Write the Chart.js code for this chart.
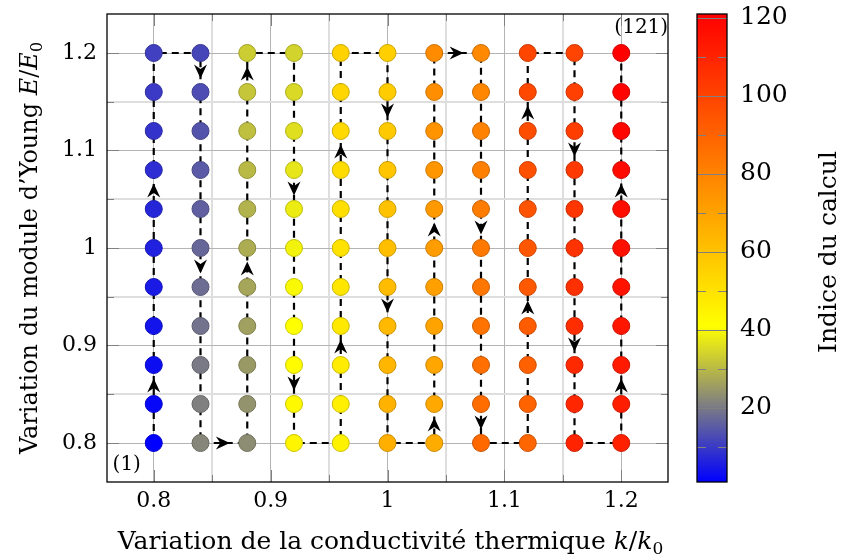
<!DOCTYPE html>
<html>
<head>
<meta charset="utf-8">
<script src="https://cdn.jsdelivr.net/npm/chart.js"></script>
<style>
html, body { margin: 0; padding: 0; background: #fff; }
#wrap { width: 841px; height: 559px; }
</style>
</head>
<body>
<div id="wrap"><canvas id="chart" width="841" height="559"></canvas></div>
<script>
// Valeurs
var kValues = [0.8, 0.84, 0.88, 0.92, 0.96, 1.0, 1.04, 1.08, 1.12, 1.16, 1.2];
var eValues = [0.8, 0.84, 0.88, 0.92, 0.96, 1.0, 1.04, 1.08, 1.12, 1.16, 1.2];
var xTicks = [0.8, 0.9, 1, 1.1, 1.2];
var xMinorTicks = [0.85, 0.95, 1.05, 1.15];
var yTicks = [0.8, 0.9, 1, 1.1, 1.2];
var yMinorTicks = [0.85, 0.95, 1.05, 1.15];
var cbTicks = [20, 40, 60, 80, 100, 120];
var cbMinorTicks = [10, 30, 50, 70, 90, 110];
// segments (indice de départ) portant une flèche
var arrowSegments = [2, 7, 12, 17, 22, 27, 32, 37, 42, 47, 52, 57, 62, 67, 72, 77, 82, 87, 92, 97, 102, 107, 112, 117];

var FONT = "'DejaVu Serif', serif";

// colormap : bleu -> gris -> jaune -> rouge
var cmapStops = [
    { v: 1, c: [0, 0, 255] },
    { v: 21, c: [128, 128, 128] },
    { v: 41, c: [255, 255, 0] },
    { v: 121, c: [255, 0, 0] }
];

function mapColor(v, factor) {
    var f = factor || 1;
    var a = cmapStops[0], b = cmapStops[cmapStops.length - 1];
    for (var i = 0; i < cmapStops.length - 1; i++) {
        if (v >= cmapStops[i].v && v <= cmapStops[i + 1].v) {
            a = cmapStops[i];
            b = cmapStops[i + 1];
            break;
        }
    }
    var t = (v - a.v) / (b.v - a.v);
    var rgb = [];
    for (var k = 0; k < 3; k++) {
        rgb.push(Math.round((a.c[k] + (b.c[k] - a.c[k]) * t) * f));
    }
    return 'rgb(' + rgb.join(',') + ')';
}

// Parcours en serpentin : colonne par colonne
var points = [];
var calcIndex = [];
for (var i = 0; i < kValues.length; i++) {
    for (var j = 0; j < eValues.length; j++) {
        var e = (i % 2 === 0) ? eValues[j] : eValues[eValues.length - 1 - j];
        points.push({ x: kValues[i], y: e });
        calcIndex.push(points.length);
    }
}

var fillColors = [];
var edgeColors = [];
for (var n = 0; n < calcIndex.length; n++) {
    fillColors.push(mapColor(calcIndex[n]));
    edgeColors.push(mapColor(calcIndex[n], 0.8));
}

function isIn(list, v) {
    for (var i = 0; i < list.length; i++) {
        if (Math.abs(list[i] - v) < 1e-9) return true;
    }
    return false;
}

function makeTicks(major, minor) {
    var all = major.concat(minor);
    var out = [];
    for (var i = 0; i < all.length; i++) out.push({ value: all[i] });
    return out;
}

function drawRich(ctx, parts, x, y, angle) {
    ctx.save();
    ctx.translate(x, y);
    ctx.rotate(angle);
    var total = 0;
    for (var i = 0; i < parts.length; i++) {
        ctx.font = parts[i].font;
        parts[i].w = ctx.measureText(parts[i].text).width;
        total += parts[i].w;
    }
    var cx = -total / 2;
    ctx.textAlign = 'left';
    ctx.textBaseline = 'alphabetic';
    ctx.fillStyle = '#000';
    for (var j = 0; j < parts.length; j++) {
        ctx.font = parts[j].font;
        ctx.fillText(parts[j].text, cx, parts[j].dy || 0);
        cx += parts[j].w;
    }
    ctx.restore();
}

function drawArrow(ctx, x, y, dx, dy) {
    var L = 14, W = 13, notch = 9.5;
    var ang = Math.atan2(dy, dx);
    ctx.save();
    ctx.translate(x, y);
    ctx.rotate(ang);
    ctx.beginPath();
    ctx.moveTo(0, 0);
    ctx.lineTo(-L, -W / 2);
    ctx.lineTo(-notch, 0);
    ctx.lineTo(-L, W / 2);
    ctx.closePath();
    ctx.fillStyle = '#000';
    ctx.fill();
    ctx.restore();
}

// Décor : flèches, cadre, graduations internes, barre de couleur, textes
var decorPlugin = {
    id: 'decor',
    afterDatasetsDraw: function(chart) {
        var ctx = chart.ctx;
        var xs = chart.scales.x, ys = chart.scales.y;
        for (var i = 0; i < arrowSegments.length; i++) {
            var p0 = points[arrowSegments[i] - 1];
            var p1 = points[arrowSegments[i]];
            var x0 = xs.getPixelForValue(p0.x), y0 = ys.getPixelForValue(p0.y);
            var x1 = xs.getPixelForValue(p1.x), y1 = ys.getPixelForValue(p1.y);
            var dx = x1 - x0, dy = y1 - y0;
            var len = Math.sqrt(dx * dx + dy * dy);
            var ux = dx / len, uy = dy / len;
            drawArrow(ctx, (x0 + x1) / 2 + ux * 6, (y0 + y1) / 2 + uy * 6, ux, uy);
        }
    },
    afterDraw: function(chart) {
        var ctx = chart.ctx;
        var area = chart.chartArea;
        var xs = chart.scales.x, ys = chart.scales.y, cb = chart.scales.cb;
        var i, p;

        // graduations internes
        ctx.save();
        ctx.strokeStyle = '#808080';
        ctx.lineWidth = 1;
        ctx.beginPath();
        var allX = xTicks.concat(xMinorTicks);
        for (i = 0; i < allX.length; i++) {
            var tl = isIn(xTicks, allX[i]) ? 12 : 7;
            p = Math.round(xs.getPixelForValue(allX[i])) + 0.5;
            ctx.moveTo(p, area.bottom); ctx.lineTo(p, area.bottom - tl);
            ctx.moveTo(p, area.top); ctx.lineTo(p, area.top + tl);
        }
        var allY = yTicks.concat(yMinorTicks);
        for (i = 0; i < allY.length; i++) {
            var tl2 = isIn(yTicks, allY[i]) ? 12 : 7;
            p = Math.round(ys.getPixelForValue(allY[i])) + 0.5;
            ctx.moveTo(area.left, p); ctx.lineTo(area.left + tl2, p);
            ctx.moveTo(area.right, p); ctx.lineTo(area.right - tl2, p);
        }
        ctx.stroke();

        // cadre
        ctx.strokeStyle = '#000';
        ctx.lineWidth = 1.3;
        ctx.strokeRect(area.left, area.top, area.right - area.left, area.bottom - area.top);
        ctx.restore();

        // barre de couleur
        var bx0 = 697, bx1 = 727;
        var by0 = cb.getPixelForValue(cmapStops[cmapStops.length - 1].v);
        var by1 = cb.getPixelForValue(cmapStops[0].v);
        var grad = ctx.createLinearGradient(0, by1, 0, by0);
        var span = cmapStops[cmapStops.length - 1].v - cmapStops[0].v;
        for (i = 0; i < cmapStops.length; i++) {
            grad.addColorStop((cmapStops[i].v - cmapStops[0].v) / span, mapColor(cmapStops[i].v));
        }
        ctx.save();
        ctx.fillStyle = grad;
        ctx.fillRect(bx0, by0, bx1 - bx0, by1 - by0);
        ctx.strokeStyle = '#808080';
        ctx.lineWidth = 1;
        ctx.beginPath();
        for (i = 0; i < cbTicks.length; i++) {
            p = Math.round(cb.getPixelForValue(cbTicks[i])) + 0.5;
            ctx.moveTo(bx0, p); ctx.lineTo(bx1, p);
        }
        for (i = 0; i < cbMinorTicks.length; i++) {
            p = Math.round(cb.getPixelForValue(cbMinorTicks[i])) + 0.5;
            ctx.moveTo(bx0, p); ctx.lineTo(bx0 + 9, p);
            ctx.moveTo(bx1, p); ctx.lineTo(bx1 - 9, p);
        }
        ctx.stroke();
        ctx.strokeStyle = '#000';
        ctx.lineWidth = 1.3;
        ctx.strokeRect(bx0, by0, bx1 - bx0, by1 - by0);
        ctx.restore();

        // étiquettes (1) et (121)
        ctx.save();
        ctx.font = '20px ' + FONT;
        ctx.fillStyle = '#000';
        ctx.textAlign = 'center';
        ctx.textBaseline = 'middle';
        var first = points[0], last = points[points.length - 1];
        ctx.fillText('(' + calcIndex[0] + ')', xs.getPixelForValue(first.x) - 27, ys.getPixelForValue(first.y) + 22);
        ctx.fillText('(' + calcIndex[calcIndex.length - 1] + ')', xs.getPixelForValue(last.x) + 20, ys.getPixelForValue(last.y) - 25);
        ctx.restore();

        // titres des axes
        var f = '25px ' + FONT, fi = 'italic 25px ' + FONT, fs = '17px ' + FONT;
        drawRich(ctx, [
            { text: 'Variation de la conductivité thermique ', font: f },
            { text: 'k', font: fi },
            { text: '/', font: f },
            { text: 'k', font: fi },
            { text: '0', font: fs, dy: 5 }
        ], (area.left + area.right) / 2 + 3, 549, 0);
        var g = '24px ' + FONT, gi = 'italic 24px ' + FONT, gs = '16px ' + FONT;
        drawRich(ctx, [
            { text: 'Variation du module d\u2019Young ', font: g },
            { text: 'E', font: gi },
            { text: '/', font: g },
            { text: 'E', font: gi },
            { text: '0', font: gs, dy: 5 }
        ], 37, (area.top + area.bottom) / 2, -Math.PI / 2);
        drawRich(ctx, [
            { text: 'Indice du calcul', font: '25px ' + FONT }
        ], 836, 252, -Math.PI / 2);
    }
};

function fixWidth(w) {
    return function(scale) {
        scale.width = w;
        scale.paddingTop = 0;
        scale.paddingBottom = 0;
    };
}

var chart = new Chart(document.getElementById('chart'), {
    type: 'scatter',
    data: {
        datasets: [{
            data: points,
            showLine: true,
            borderColor: '#000',
            borderWidth: 2.2,
            borderDash: [7, 5],
            tension: 0,
            fill: false,
            pointRadius: 8.5,
            pointBorderWidth: 1,
            pointBackgroundColor: fillColors,
            pointBorderColor: edgeColors,
            yAxisID: 'y'
        }]
    },
    options: {
        responsive: false,
        animation: false,
        events: [],
        layout: { padding: { top: 14, left: 0, right: 0, bottom: 0 } },
        plugins: {
            legend: { display: false },
            tooltip: { enabled: false }
        },
        scales: {
            x: {
                type: 'linear',
                min: 0.76,
                max: 1.24,
                afterBuildTicks: function(scale) { scale.ticks = makeTicks(xTicks, xMinorTicks); },
                afterFit: function(scale) {
                    scale.height = 77;
                    scale.paddingLeft = 0;
                    scale.paddingRight = 0;
                },
                ticks: {
                    autoSkip: false,
                    maxRotation: 0,
                    padding: 6,
                    color: '#000',
                    font: { family: FONT, size: 22 },
                    callback: function(v) { return isIn(xTicks, v) ? String(v) : ''; }
                },
                grid: {
                    drawTicks: false,
                    color: function(c) { return c.tick && isIn(xTicks, c.tick.value) ? '#b4b4b4' : '#dedede'; },
                    lineWidth: function(c) { return c.tick && isIn(xTicks, c.tick.value) ? 1 : 2; }
                },
                border: { display: false }
            },
            y: {
                type: 'linear',
                position: 'left',
                min: 0.76,
                max: 1.24,
                afterBuildTicks: function(scale) { scale.ticks = makeTicks(yTicks, yMinorTicks); },
                afterFit: fixWidth(107),
                ticks: {
                    autoSkip: false,
                    padding: 10,
                    color: '#000',
                    font: { family: FONT, size: 22 },
                    callback: function(v) { return isIn(yTicks, v) ? String(v) : ''; }
                },
                grid: {
                    drawTicks: false,
                    color: function(c) { return c.tick && isIn(yTicks, c.tick.value) ? '#b4b4b4' : '#dedede'; },
                    lineWidth: function(c) { return c.tick && isIn(yTicks, c.tick.value) ? 1 : 2; }
                },
                border: { display: false }
            },
            cb: {
                type: 'linear',
                position: 'right',
                min: cmapStops[0].v,
                max: cmapStops[cmapStops.length - 1].v,
                afterBuildTicks: function(scale) { scale.ticks = makeTicks(cbTicks, []); },
                afterFit: fixWidth(173),
                ticks: {
                    autoSkip: false,
                    padding: 72,
                    color: '#000',
                    font: { family: FONT, size: 25 }
                },
                grid: { display: false, drawTicks: false },
                border: { display: false }
            }
        }
    },
    plugins: [decorPlugin]
});
</script>
</body>
</html>
